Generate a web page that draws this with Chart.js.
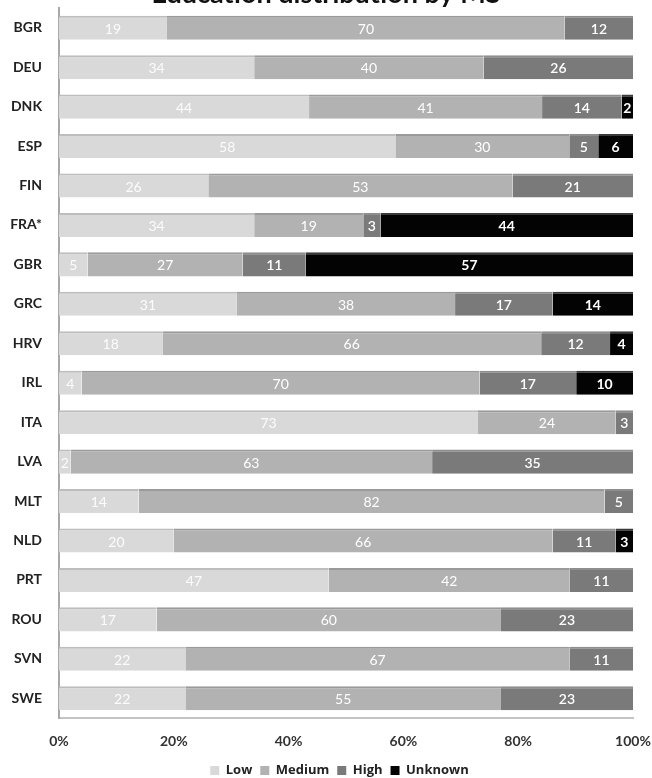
<!DOCTYPE html>
<html>
<head>
<meta charset="utf-8">
<script src="https://cdn.jsdelivr.net/npm/chart.js@4/dist/chart.umd.min.js"></script>
<style>
  html, body { margin: 0; padding: 0; background: #fff; }
  #wrap { position: relative; width: 652px; height: 778px; }
</style>
</head>
<body>
<div id="wrap"><canvas id="chart"></canvas></div>
<script>
// Education level shares (%) per member state
const TITLE = 'Education distribution by MS';
const countries = ['BGR','DEU','DNK','ESP','FIN','FRA*','GBR','GRC','HRV','IRL','ITA','LVA','MLT','NLD','PRT','ROU','SVN','SWE'];
const low     = [19, 34, 44, 58, 26, 34,  5, 31, 18,  4, 73,  2, 14, 20, 47, 17, 22, 22];
const medium  = [70, 40, 41, 30, 53, 19, 27, 38, 66, 70, 24, 63, 82, 66, 42, 60, 67, 55];
const high    = [12, 26, 14,  5, 21,  3, 11, 17, 12, 17,  3, 35,  5, 11, 11, 23, 11, 23];
const unknown = [null, null, 2, 6, null, 44, 57, 14, 4, 10, null, null, null, 3, null, null, null, null];
const seriesNames = ['Low', 'Medium', 'High', 'Unknown'];
const xTicks = [0, 20, 40, 60, 80, 100];

const seriesValues = [low, medium, high, unknown];
const fills = ['#d9d9d9', '#b2b2b2', '#7a7a7a', '#030303'];
const edges = ['#bdbdbd', '#9a9a9a', '#8e8e8e', '#3a3a3a'];

// each bar is stacked to 100% of its row total (rounded shares may add to 99 or 101)
const rowTotals = countries.map((_, i) => seriesValues.reduce((s, arr) => s + (arr[i] || 0), 0));

const datasets = seriesValues.map((arr, k) => ({
  label: seriesNames[k],
  rawValues: arr,
  data: arr.map((v, i) => v == null ? null : v / rowTotals[i] * 100),
  backgroundColor: fills[k],
  borderColor: edges[k],
  borderWidth: { top: 2, right: 0, bottom: 0, left: 0 },
  borderSkipped: false,
  barPercentage: 0.61,
  categoryPercentage: 1.0
}));

const FONT = 'Lato, "Open Sans", "DejaVu Sans", sans-serif';
const WIDE = '"Open Sans", Lato, "DejaVu Sans", sans-serif';

// numbers written inside each segment
const valueLabels = {
  id: 'valueLabels',
  afterDatasetsDraw(chart) {
    const ctx = chart.ctx;
    chart.data.datasets.forEach((ds, k) => {
      const meta = chart.getDatasetMeta(k);
      if (meta.hidden) return;
      meta.data.forEach((bar, i) => {
        const v = ds.rawValues[i];
        if (v == null) return;
        const p = bar.getProps(['x', 'y', 'base'], true);
        ctx.save();
        ctx.font = (k === 3 ? 'bold ' : (k === 2 ? '600 ' : '')) + '14px ' + FONT;
        ctx.fillStyle = k === 0 ? 'rgba(255,255,255,0.92)' : '#ffffff';
        ctx.textAlign = 'center';
        ctx.textBaseline = 'middle';
        ctx.fillText(String(v), (p.x + p.base) / 2, p.y + 1.5);
        ctx.restore();
      });
    });
  }
};

// heading across the top edge
const topTitle = {
  id: 'topTitle',
  afterDraw(chart) {
    const ctx = chart.ctx;
    ctx.save();
    ctx.font = 'bold 27px ' + FONT;
    ctx.fillStyle = '#111';
    ctx.textAlign = 'center';
    ctx.textBaseline = 'alphabetic';
    ctx.fillText(TITLE, chart.width / 2, 3);
    ctx.restore();
  }
};

// keep the legend centred under the plot rather than the whole canvas
const legendUnderPlot = {
  id: 'legendUnderPlot',
  afterLayout(chart) {
    if (chart.legend) chart.legend.left = chart.legend.left + 46;
  }
};

new Chart(document.getElementById('chart'), {
  type: 'bar',
  data: { labels: countries, datasets },
  options: {
    indexAxis: 'y',
    responsive: true,
    maintainAspectRatio: false,
    animation: false,
    layout: { padding: { top: 8, right: 19, bottom: -9, left: 0 } },
    scales: {
      x: {
        stacked: true,
        min: 0,
        max: 100,
        afterBuildTicks(scale) { scale.ticks = xTicks.map(v => ({ value: v })); },
        ticks: {
          callback: v => v + '%',
          font: { family: FONT, size: 14, weight: 'bold' },
          color: '#333',
          padding: 15,
          maxRotation: 0
        },
        grid: { display: false, drawTicks: false },
        border: { display: true, color: '#c4c4c4', width: 2 },
        afterFit(scale) {
          scale.height = 38;
          scale.paddingLeft = 0;
          scale.paddingRight = 0;
        }
      },
      y: {
        stacked: true,
        ticks: {
          font: { family: FONT, size: 14, weight: 'bold' },
          color: '#222',
          padding: 17
        },
        grid: { display: false, drawTicks: false },
        border: { display: true, color: '#a8a8a8', width: 2 },
        afterFit(scale) {
          scale.width = 59;
          scale.paddingTop = 0;
          scale.paddingBottom = 0;
        }
      }
    },
    plugins: {
      legend: {
        position: 'bottom',
        labels: {
          boxWidth: 9,
          boxHeight: 9,
          padding: 8,
          color: '#222',
          font: { family: WIDE, size: 13, weight: 'bold', lineHeight: 1 },
          generateLabels(chart) {
            return chart.data.datasets.map((ds, k) => ({
              text: ds.label,
              fillStyle: ds.backgroundColor,
              strokeStyle: ds.backgroundColor,
              lineWidth: 0,
              fontColor: '#222',
              hidden: false,
              datasetIndex: k
            }));
          }
        }
      },
      tooltip: { enabled: false }
    }
  },
  plugins: [valueLabels, topTitle, legendUnderPlot]
});
</script>
</body>
</html>
